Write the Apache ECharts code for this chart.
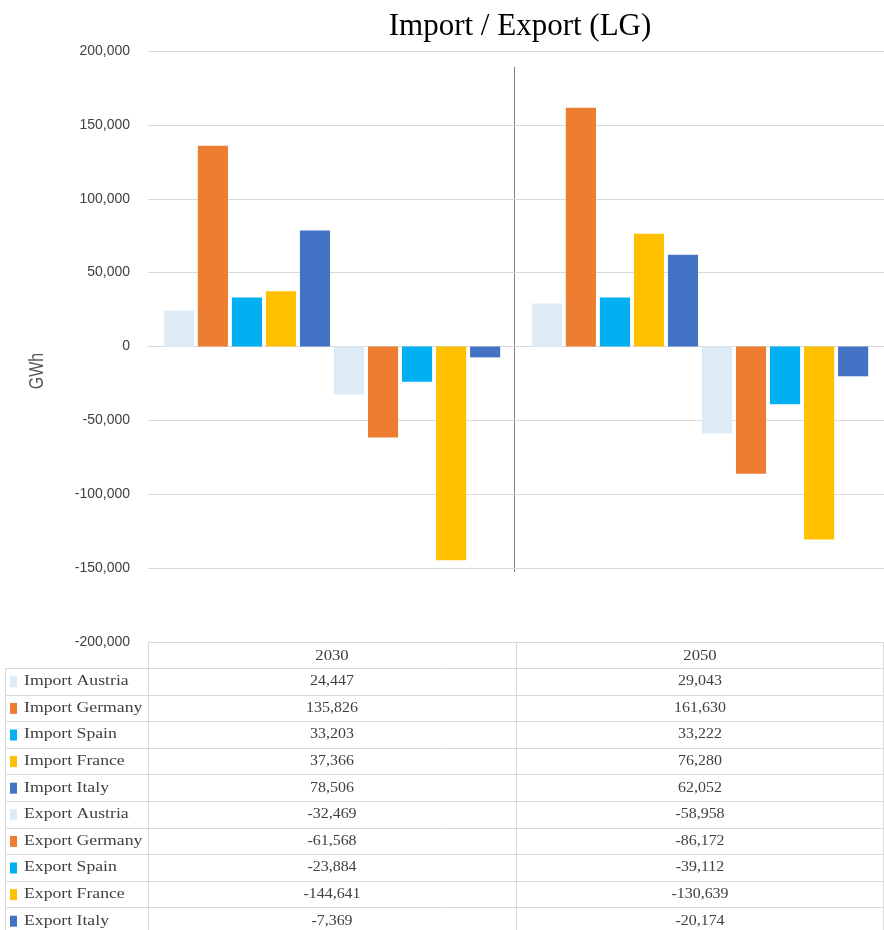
<!DOCTYPE html>
<html>
<head>
<meta charset="utf-8">
<script src="https://cdn.jsdelivr.net/npm/echarts@6/dist/echarts.min.js"></script>
<style>
  html, body { margin: 0; padding: 0; background: #fff; }
  #chart { width: 884px; height: 930px; }
</style>
</head>
<body>
<div id="chart"></div>
<script>
// Years shown on the category axis / table header
const years = ['2030', '2050'];

// Series names (row labels of the data table)
const seriesNames = [
  'Import Austria', 'Import Germany', 'Import Spain', 'Import France', 'Import Italy',
  'Export Austria', 'Export Germany', 'Export Spain', 'Export France', 'Export Italy'
];

// Values in GWh, per year
const values2030 = [24447, 135826, 33203, 37366, 78506, -32469, -61568, -23884, -144641, -7369];
const values2050 = [29043, 161630, 33222, 76280, 62052, -58958, -86172, -39112, -130639, -20174];

// Y axis ticks
const yTicks = [-200000, -150000, -100000, -50000, 0, 50000, 100000, 150000, 200000];

// Colours per country
const seriesColors = [
  '#DDEBF7', '#ED7D31', '#00B0F0', '#FFC000', '#4472C4',
  '#DDEBF7', '#ED7D31', '#00B0F0', '#FFC000', '#4472C4'
];

const fmt = v => v.toLocaleString('en-US');

// Plot / table layout
const W = 884, H = 930;
const plotLeft = 148, plotRight = 884, plotTop = 51, plotBottom = 642;
const tableLeft = 5, headerBottom = 668, rowH = 26.6;
const midX = (plotLeft + plotRight) / 2;
const gridColor = '#D9D9D9';
const serif = '"Liberation Serif", "DejaVu Serif", serif';
const sans = '"Liberation Sans", Arial, sans-serif';
const tableText = '#404040';

const chart = echarts.init(document.getElementById('chart'), null, { renderer: 'canvas' });

const series = seriesNames.map((name, i) => ({
  name: name,
  type: 'bar',
  data: [values2030[i], values2050[i]],
  itemStyle: { color: seriesColors[i] },
  barGap: '13%',
  barCategoryGap: '8.6%',
  silent: true
}));

// Data table below the plot
const graphics = [];
const line = (x1, y1, x2, y2, color) => graphics.push({
  type: 'line', silent: true,
  shape: { x1, y1, x2, y2 },
  style: { stroke: color || gridColor, lineWidth: 1 }
});
const text = (str, x, y, align, size, sx) => graphics.push({
  type: 'text', silent: true,
  x: x, y: y, scaleX: sx,
  style: {
    text: str, x: 0, y: 0,
    textAlign: align, textVerticalAlign: 'middle',
    font: size + 'px ' + serif, fill: tableText
  }
});

const tableBottom = headerBottom + rowH * seriesNames.length;
line(plotLeft, plotBottom + 0.5, plotRight, plotBottom + 0.5);
line(tableLeft, headerBottom + 0.5, plotRight, headerBottom + 0.5);
for (let r = 1; r <= seriesNames.length; r++) {
  const y = Math.round(headerBottom + rowH * r) + 0.5;
  line(tableLeft, y, plotRight, y);
}
line(tableLeft + 0.5, headerBottom, tableLeft + 0.5, tableBottom);
line(plotLeft + 0.5, plotBottom, plotLeft + 0.5, tableBottom);
line(midX + 0.5, plotBottom, midX + 0.5, tableBottom);
line(plotRight - 0.5, plotBottom, plotRight - 0.5, tableBottom);

const colCenters = [(plotLeft + midX) / 2, (midX + plotRight) / 2];
years.forEach((yr, c) => {
  text(yr, colCenters[c], (plotBottom + headerBottom) / 2 + 1, 'center', 14.5, 1.15);
});

const cols = [values2030, values2050];
seriesNames.forEach((name, r) => {
  const cy = headerBottom + rowH * r + rowH / 2;
  graphics.push({
    type: 'rect', silent: true,
    shape: { x: 10, y: cy - 5, width: 7, height: 11 },
    style: { fill: seriesColors[r] }
  });
  text(name, 24, cy, 'left', 14.5, 1.22);
  cols.forEach((vals, c) => {
    text(fmt(vals[r]), colCenters[c], cy, 'center', 14.5, 1.1);
  });
});

// Divider between the two year groups
line(514.5, 67, 514.5, 572, '#808080');

chart.setOption({
  animation: false,
  backgroundColor: '#ffffff',
  title: {
    text: 'Import / Export (LG)',
    left: 515, top: 6, textAlign: 'center',
    textStyle: { fontFamily: serif, fontSize: 31, fontWeight: 'normal', color: '#000' }
  },
  grid: {
    left: plotLeft, right: W - plotRight, top: plotTop, bottom: H - plotBottom,
    containLabel: false
  },
  xAxis: {
    type: 'category',
    data: years,
    axisLine: { onZero: true, lineStyle: { color: gridColor } },
    axisTick: { show: false },
    axisLabel: { show: false },
    splitLine: { show: false }
  },
  yAxis: {
    type: 'value',
    min: yTicks[0], max: yTicks[yTicks.length - 1], interval: 50000,
    axisLine: { show: false },
    axisTick: { show: false },
    axisLabel: {
      margin: 18,
      fontFamily: sans, fontSize: 14, color: '#404040',
      formatter: v => fmt(v)
    },
    splitLine: { lineStyle: { color: gridColor } }
  },
  series: series,
  graphic: graphics.concat([{
    type: 'text', silent: true,
    x: 37, y: 371, rotation: Math.PI / 2, scaleX: 0.8,
    style: {
      text: 'GWh', x: 0, y: 0, textAlign: 'center', textVerticalAlign: 'middle',
      font: '20px ' + sans, fill: '#595959'
    }
  }])
});
</script>
</body>
</html>
